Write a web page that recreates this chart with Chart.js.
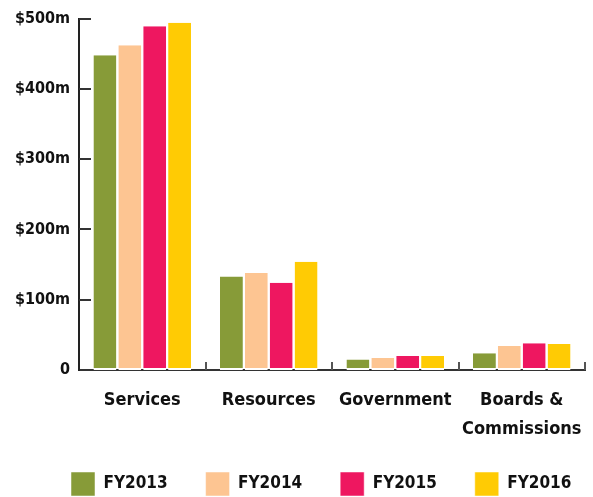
<!DOCTYPE html>
<html>
<head>
<meta charset="utf-8">
<script src="https://cdn.jsdelivr.net/npm/chart.js@4/dist/chart.umd.min.js"></script>
<style>
  html, body { margin: 0; padding: 0; background: #fff; overflow: hidden; }
  #wrap { position: relative; width: 593px; height: 512px; }
</style>
</head>
<body>
<div id="wrap"><canvas id="chart"></canvas></div>
<script>
// categorias y series
const categories = ['Services', 'Resources', 'Government', ['Boards &', 'Commissions']];
const years = ['FY2013', 'FY2014', 'FY2015', 'FY2016'];
const fy2013 = [448, 133, 15, 24];
const fy2014 = [462, 138, 17, 34];
const fy2015 = [489, 124, 20, 38];
const fy2016 = [494, 154, 20, 37];
const yTicks = [0, 100, 200, 300, 400, 500];
const colors = ['#879b38', '#fdc592', '#ee1760', '#ffcb04'];

const DOLLAR = String.fromCharCode(36);
const labelFont = "'DejaVu Sans Condensed', 'DejaVu Sans', sans-serif";

// marcas de los ejes hacia dentro
const innerTicks = {
    id: 'innerTicks',
    afterDatasetsDraw(chart) {
        const ctx = chart.ctx;
        const x = chart.scales.x;
        const y = chart.scales.y;
        ctx.save();
        ctx.strokeStyle = '#333';
        ctx.lineWidth = 2;
        yTicks.forEach(v => {
            if (v === 0) return;
            const py = Math.round(y.getPixelForValue(v));
            ctx.beginPath();
            ctx.moveTo(x.left, py);
            ctx.lineTo(x.left + 12, py);
            ctx.stroke();
        });
        ctx.strokeStyle = '#555';
        const half = (x.getPixelForValue(1) - x.getPixelForValue(0)) / 2;
        categories.forEach((c, i) => {
            const px = Math.round(x.getPixelForValue(i) + half);
            ctx.beginPath();
            ctx.moveTo(px, y.bottom);
            ctx.lineTo(px, y.bottom - 8);
            ctx.stroke();
        });
        ctx.restore();
    }
};

// mover la leyenda: empieza bajo el eje y, un poco mas arriba
const moveLegend = {
    id: 'moveLegend',
    afterLayout(chart) {
        const lg = chart.legend;
        const pad = lg.options.labels.padding;
        const startX = (lg.left + pad + lg.right - lg.lineWidths[0]) / 2;
        const dx = 71 - startX;
        lg.left += dx;
        lg.right += dx;
        lg.top -= 6;
        lg.bottom -= 6;
    }
};

const ctx = document.getElementById('chart').getContext('2d');
const chart = new Chart(ctx, {
    type: 'bar',
    data: {
        labels: categories,
        datasets: years.map((y, i) => ({
            label: y,
            data: [fy2013, fy2014, fy2015, fy2016][i],
            backgroundColor: colors[i],
            borderColor: '#fff',
            borderWidth: { top: 0, left: 0, right: 0, bottom: 2 },
            borderSkipped: false
        }))
    },
    options: {
        responsive: true,
        maintainAspectRatio: false,
        animation: false,
        datasets: { bar: { barPercentage: 0.92, categoryPercentage: 0.787 } },
        layout: { padding: { left: 0, right: 8, top: 14, bottom: 0 } },
        plugins: {
            legend: {
                position: 'bottom',
                labels: {
                    boxWidth: 24,
                    boxHeight: 24,
                    padding: 38,
                    color: '#111',
                    font: { family: labelFont, size: 17, weight: 'bold' }
                }
            },
            tooltip: { enabled: false }
        },
        scales: {
            x: {
                grid: { display: false },
                border: { display: true, color: '#333', width: 2 },
                ticks: {
                    padding: 8,
                    color: '#111',
                    maxRotation: 0,
                    autoSkip: false,
                    font: { family: labelFont, size: 18, weight: 'bold', lineHeight: 1.6 }
                },
                afterFit(scale) { scale.height = 70; }
            },
            y: {
                min: 0,
                max: 500,
                grid: { display: false, drawTicks: false },
                border: { display: true, color: '#222', width: 2 },
                ticks: {
                    stepSize: 100,
                    padding: 9,
                    color: '#111',
                    font: { family: labelFont, size: 16, weight: 'bold' },
                    callback: v => v === 0 ? '0' : DOLLAR + v + 'm'
                },
                afterFit(scale) { scale.width = 79; }
            }
        }
    },
    plugins: [innerTicks, moveLegend]
});
</script>
</body>
</html>
